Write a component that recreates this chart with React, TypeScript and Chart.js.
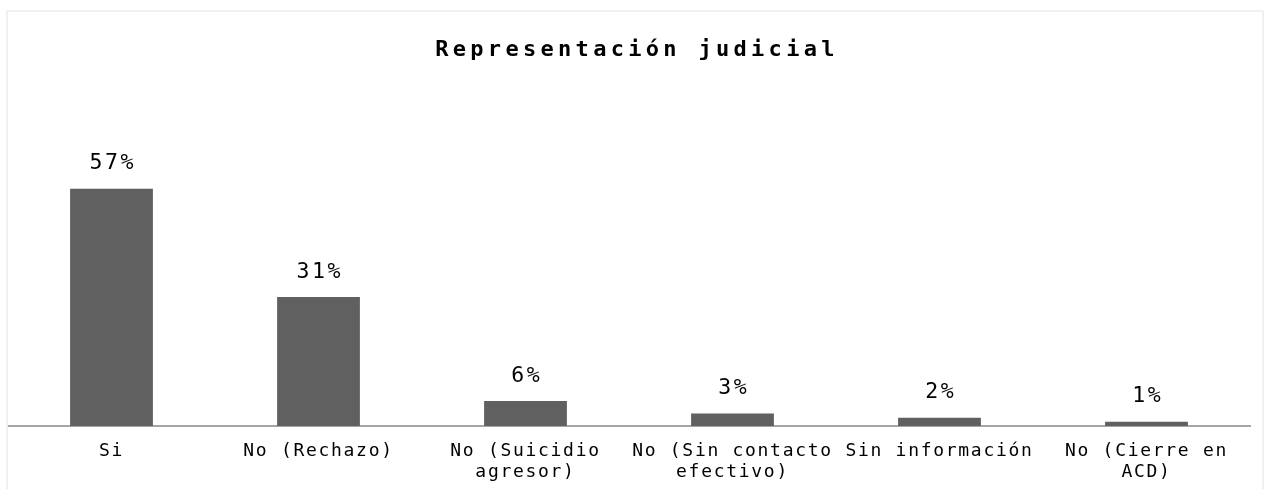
import React, { useEffect, useRef } from "react";
import { Chart, registerables } from "chart.js";

Chart.register(...registerables);

const TITLE = "Representación judicial";
const categories: (string | string[])[] = [
  "Si",
  "No (Rechazo)",
  ["No (Suicidio", "agresor)"],
  ["No (Sin contacto", "efectivo)"],
  "Sin información",
  ["No (Cierre en", "ACD)"],
];
const values = [57, 31, 6, 3, 2, 1];
const valueLabels = ["57%", "31%", "6%", "3%", "2%", "1%"];

const FONT = "'DejaVu Sans Mono', monospace";

const overlayPlugin = {
  id: "overlay",
  beforeUpdate(chart: any) {
    chart.ctx.letterSpacing = "1.7px";
  },
  beforeDraw(chart: any) {
    chart.ctx.letterSpacing = "1.7px";
  },
  afterDraw(chart: any) {
    const ctx = chart.ctx;
    ctx.save();
    ctx.fillStyle = "#000";
    ctx.textAlign = "center";
    ctx.textBaseline = "middle";
    // title
    ctx.letterSpacing = "4.3px";
    ctx.font = `bold 22px ${FONT}`;
    ctx.fillText(TITLE, chart.width / 2 + 2, 38);
    // value labels
    ctx.letterSpacing = "2.6px";
    ctx.font = `21.5px ${FONT}`;
    const meta = chart.getDatasetMeta(0);
    meta.data.forEach((bar: any, i: number) => {
      ctx.fillText(valueLabels[i], bar.x + 1.3, bar.y - 25);
    });
    ctx.restore();
    ctx.letterSpacing = "0px";
  },
};

export default function App() {
  const ref = useRef<HTMLCanvasElement | null>(null);
  useEffect(() => {
    if (!ref.current) return;
    const chart = new Chart(ref.current, {
      type: "bar",
      data: {
        labels: categories,
        datasets: [
          {
            data: values,
            backgroundColor: "#606060",
            borderWidth: 0,
            barPercentage: 0.4,
            categoryPercentage: 1.0,
          },
        ],
      },
      options: {
        responsive: false,
        animation: false,
        devicePixelRatio: 1,
        layout: { padding: { top: 81, right: 12, left: 0, bottom: 0 } },
        plugins: {
          legend: { display: false },
          title: { display: false },
          tooltip: { enabled: false },
        },
        scales: {
          x: {
            grid: { display: false, drawTicks: false },
            border: { display: true, color: "#a6a6a6", width: 2 },
            ticks: {
              color: "#000",
              font: { family: FONT, size: 18, lineHeight: 1.15 },
              padding: 15,
              maxRotation: 0,
              minRotation: 0,
              autoSkip: false,
            },
            afterFit: (scale: any) => {
              scale.height = 63;
            },
          },
          y: {
            display: false,
            min: 0,
            max: 80,
          },
        },
      },
      plugins: [overlayPlugin],
    });
    return () => chart.destroy();
  }, []);
  return (
    <div
      style={{
        position: "absolute",
        left: 6,
        top: 10,
        width: 1258,
        height: 479,
        border: "2px solid #f0f0f0",
        borderBottom: "none",
        boxSizing: "border-box",
        overflow: "hidden",
        background: "#fff",
      }}
    >
      <canvas ref={ref} width={1254} height={477} style={{ display: "block" }} />
    </div>
  );
}
